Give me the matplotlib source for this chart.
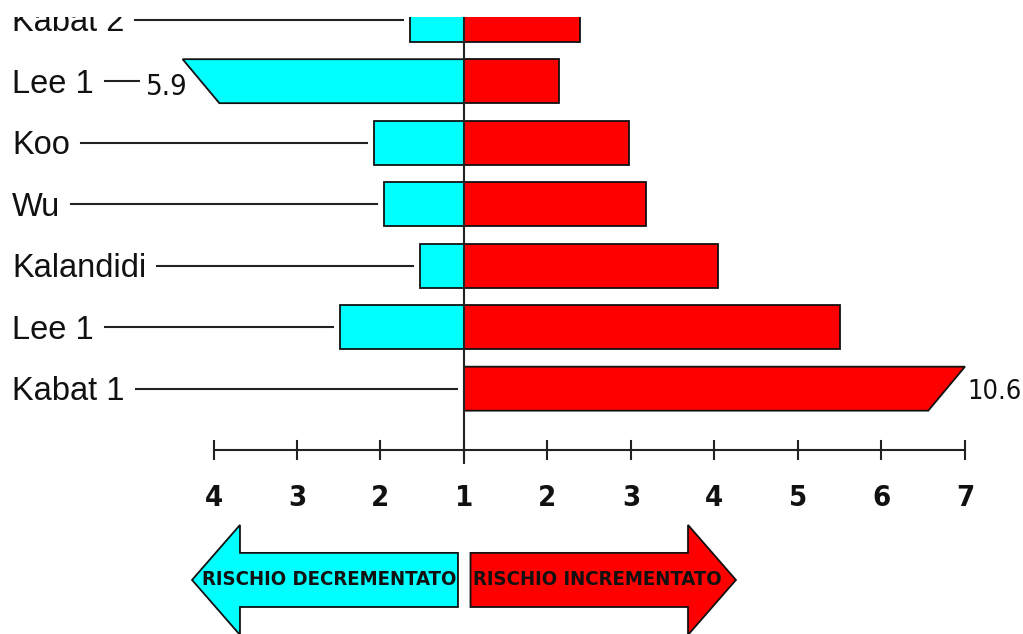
import matplotlib
matplotlib.use("Agg")
import matplotlib.font_manager as fm
from matplotlib import pyplot as plt
from matplotlib.patches import Polygon, Rectangle

# studies from bottom to top
studies = ["Kabat 1", "Lee 1", "Kalandidi", "Wu", "Koo", "Lee 1", "Kabat 2"]
# relative risk read on the left (decreased) and right (increased) scale
decrease = [1.0, 2.49, 1.53, 1.96, 2.08, 5.9, 1.65]
increase = [10.6, 5.50, 4.04, 3.18, 2.98, 2.14, 2.39]
tick_pos = [-3, -2, -1, 0, 1, 2, 3, 4, 5, 6]
tick_labels = ["4", "3", "2", "1", "2", "3", "4", "5", "6", "7"]

CYAN = "#00ffff"
RED = "#ff0000"
EDGE = "#111111"

# look for a narrow / condensed face, else plain Liberation Sans
narrow = None
narrow_stretch = "normal"
for f in fm.fontManager.ttflist:
    key = (f.name + " " + f.fname).lower()
    if "narrow" in key or "condensed" in key or str(f.stretch) in ("condensed", "semi-condensed", "extra-condensed"):
        narrow = f.name
        narrow_stretch = f.stretch
        break
found = narrow is not None
if narrow is None:
    narrow = "Liberation Sans"

fig = plt.figure(figsize=(10.23, 6.34), dpi=100)
ax = fig.add_axes([0, 0, 1, 1])
ax.set_xlim(-5.557, 6.695)
ax.set_ylim(-3.989, 6.320)
ax.axis("off")

bar_h = 0.715
cap_left = 3.37
cap_right = 6.0
slant = 0.44


def bar(y, length, side, color, cap):
    top = y + bar_h / 2
    bot = y - bar_h / 2
    if length > cap:
        pts = [(0, bot), (0, top), (side * cap, top), (side * (cap - slant), bot)]
    else:
        pts = [(0, bot), (0, top), (side * length, top), (side * length, bot)]
    ax.add_patch(Polygon(pts, closed=True, facecolor=color, edgecolor=EDGE,
                         linewidth=1.3, zorder=3))


# center line
ax.plot([0, 0], [-1.208, 6.5], color="#222222", lw=1.5, zorder=4)

fig.canvas.draw()
renderer = fig.canvas.get_renderer()
inv = ax.transData.inverted()
px = 1 / 83.5

for i, name in enumerate(studies):
    left = decrease[i] - 1
    right = increase[i] - 1
    if left > 0:
        bar(i, left, -1, CYAN, cap_left)
    bar(i, right, 1, RED, cap_right)

    t = ax.text(-5.413, i - 0.05, name, ha="left", va="center",
                fontsize=23.5, family="Liberation Sans", color="#111111")
    bb = t.get_window_extent(renderer)
    x0 = inv.transform((bb.x1, 0))[0] + 11 * px

    if decrease[i] - 1 > cap_left:
        lab = ax.text(-cap_left + 0.06, i - 0.1, f"{decrease[i]:.1f}", ha="right",
                      va="center", fontsize=21, family=narrow, stretch=narrow_stretch,
                      color="#111111")
        lb = lab.get_window_extent(renderer)
        x1 = inv.transform((lb.x0, 0))[0] - 7 * px
    else:
        x1 = -left - 7 * px
    ax.plot([x0, x1], [i, i], color="#222222", lw=1.5, zorder=2)

    if increase[i] - 1 > cap_right:
        ax.text(cap_right + 0.03, i - 0.05, f"{increase[i]:.1f}", ha="left",
                va="center", fontsize=19.5, family=narrow,
                stretch=narrow_stretch, color="#111111")

# bottom scale
ax.plot([tick_pos[0], tick_pos[-1]], [-0.997, -0.997], color="#222222", lw=1.5)
for p, lab in zip(tick_pos, tick_labels):
    ax.plot([p, p], [-1.151, -0.843], color="#222222", lw=1.5)
    ax.text(p, -1.777, lab, ha="center", va="center", fontsize=17 if not found else 21,
            family=narrow, stretch=narrow_stretch, weight="bold", color="#111111")

# direction arrows
yc = -3.11
hh = 0.894
bh = 0.44
left_arrow = [(-0.072, yc - bh), (-0.072, yc + bh), (-2.683, yc + bh), (-2.683, yc + hh),
              (-3.257, yc), (-2.683, yc - hh), (-2.683, yc - bh)]
right_arrow = [(0.078, yc - bh), (0.078, yc + bh), (2.683, yc + bh), (2.683, yc + hh),
               (3.257, yc), (2.683, yc - hh), (2.683, yc - bh)]
ax.add_patch(Polygon(left_arrow, closed=True, facecolor=CYAN, edgecolor=EDGE, lw=1.3, clip_on=False))
ax.add_patch(Polygon(right_arrow, closed=True, facecolor=RED, edgecolor=EDGE, lw=1.3, clip_on=False))
arrow_fs = 14 if not found else 14.6
ax.text(-1.62, yc, "RISCHIO DECREMENTATO", ha="center", va="center", fontsize=arrow_fs,
        family=narrow, stretch=narrow_stretch, weight="bold", color="#111111")
ax.text(1.6, yc, "RISCHIO INCREMENTATO", ha="center", va="center", fontsize=arrow_fs,
        family=narrow, stretch=narrow_stretch, weight="bold", color="#111111")

# the picture is cut at the top
fig.add_artist(Rectangle((0, 1 - 17 / 634), 1, 17 / 634, transform=fig.transFigure,
                         facecolor="white", edgecolor="none", zorder=10))

fig.savefig("out.png", dpi=100)
